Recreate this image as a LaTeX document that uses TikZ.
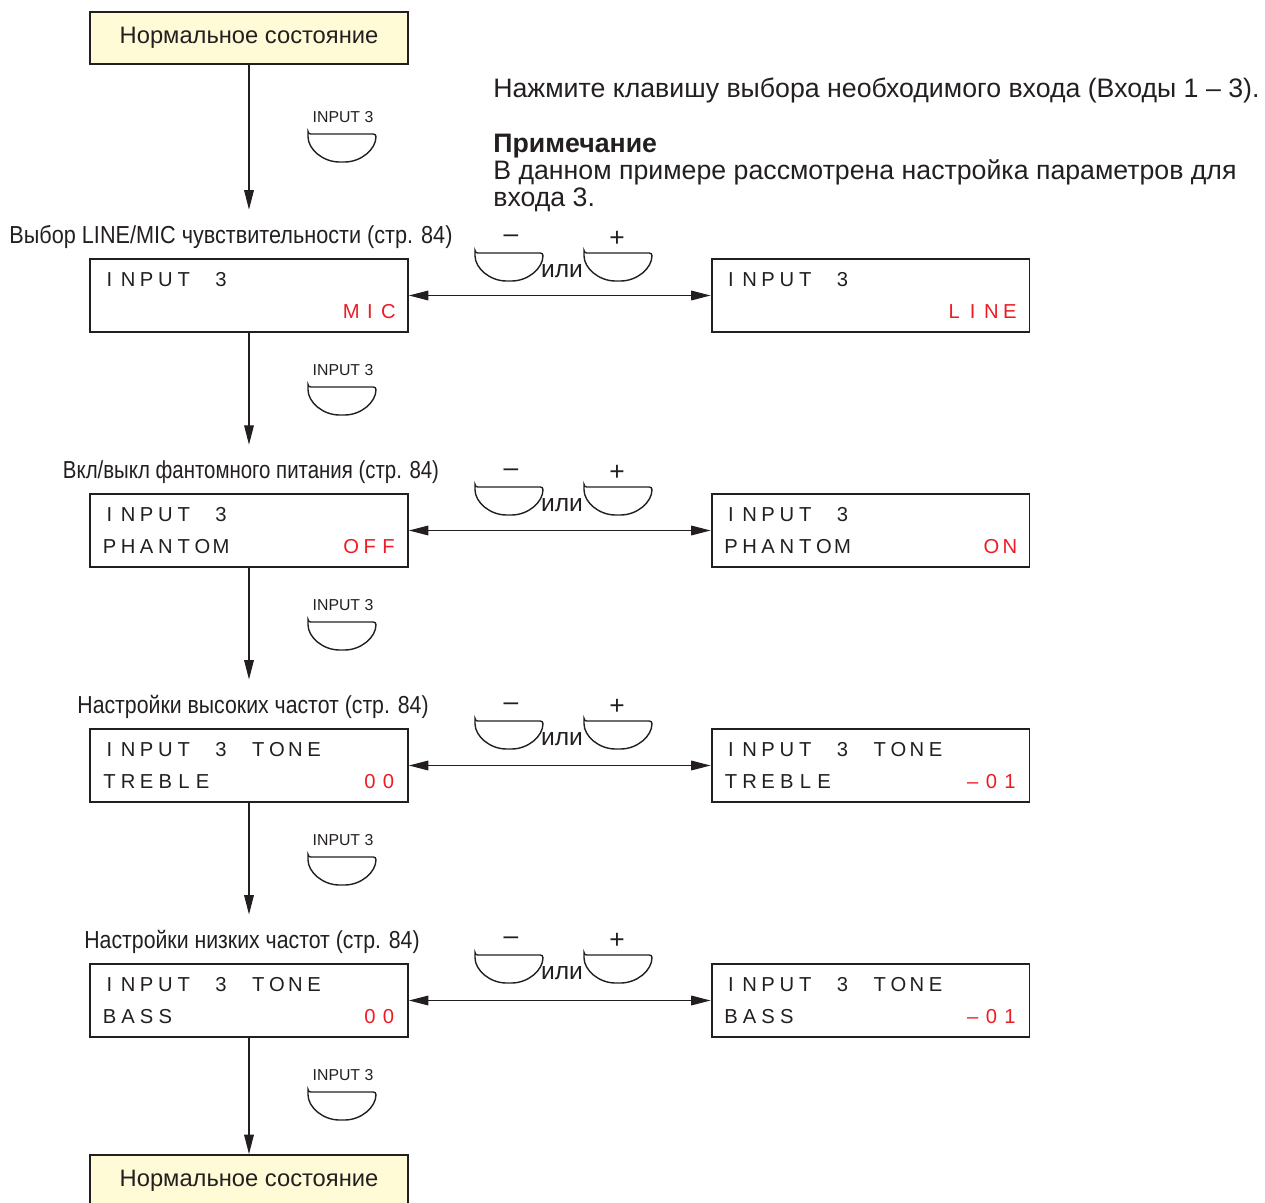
\documentclass[tikz,border=0pt]{standalone}
\usepackage{xcolor}
\usepackage{fontspec}
\setmainfont{Liberation Sans}
\newfontfamily\estrecha[FakeStretch=0.88]{Liberation Sans}
\newfontfamily\estrechab[FakeStretch=0.83]{Liberation Sans}
\newfontfamily\estrechac[FakeStretch=0.865]{Liberation Sans}
\usetikzlibrary{positioning,arrows.meta,calc}
\definecolor{tinta}{RGB}{35,31,32}
\definecolor{rojo}{RGB}{237,28,36}
\definecolor{crema}{RGB}{255,251,214}
\newlength\celda
\setlength\celda{0.372cm}
\makeatletter
\newcommand\lcd[1]{\@tfor\lcdch:=#1\do{\makebox[\celda][c]{\lcdch}}}
\makeatother

\begin{document}
\begin{tikzpicture}[x=0.02cm, y=-0.02cm,
  estado/.style={draw=tinta, line width=1.1pt, fill=crema, text=tinta,
    minimum width=6.36cm, minimum height=1.04cm,
    font=\fontsize{13.5}{16}\selectfont},
  pantalla/.style={draw=tinta, line width=1.1pt, fill=white, text=tinta,
    minimum width=6.36cm, minimum height=1.46cm, align=left, inner sep=0pt,
    font=\fontsize{11.5}{18.2}\selectfont},
  seccion/.style={text=tinta, inner sep=2pt,
    font=\estrecha\fontsize{14}{16}\selectfont},
  texto/.style={text=tinta, inner sep=0pt, font=\fontsize{15.2}{16}\selectfont},
  signo/.style={text=tinta, inner sep=0pt, font=\fontsize{15}{16}\selectfont},
  rotulo/.style={text=tinta, inner sep=1pt, font=\fontsize{9}{11}\selectfont},
  flecha/.style={-{Triangle[length=11pt,width=5.5pt]}, draw=tinta, line width=0.6pt},
  doble/.style={{Triangle[length=11pt,width=5.5pt]}-{Triangle[length=11pt,width=5.5pt]},
    draw=tinta, line width=0.6pt},
  tecla/.pic={\draw[tinta, line width=0.8pt, rounded corners=1.5pt]
    (-34,0) -- (34,0) .. controls (34,15.5) and (18.8,28) .. (0,28)
    .. controls (-18.8,28) and (-34,15.5) .. (-34,0) -- cycle;}
]
\useasboundingbox (0,0) rectangle (1265,1203);
% Estados
\node[estado] (inicio) at (249,38) {Нормальное состояние};
\node[estado] (fin) at (249,1181) {Нормальное состояние};
% Indicaciones
\node[texto, anchor=west] (indica) at (493,90)
  {Нажмите клавишу выбора необходимого входа (Входы 1 – 3).};
\node[texto, anchor=west, align=left, font=\fontsize{15.2}{15.6}\selectfont] (nota) at (493,173)
  {\textbf{Примечание}\\В данном примере рассмотрена настройка параметров для\\входа 3.};
% Secciones
\node[seccion] (s1) at (231,237) {Выбор LINE/MIC чувствительности (стр. 84)};
\node[seccion, font=\estrechab\fontsize{14}{16}\selectfont] (s2) at (251,472)
  {Вкл/выкл фантомного питания (стр. 84)};
\node[seccion, font=\estrechac\fontsize{14}{16}\selectfont] (s3) at (253,707)
  {Настройки высоких частот (стр. 84)};
\node[seccion, font=\estrechac\fontsize{14}{16}\selectfont] (s4) at (252,942)
  {Настройки низких частот (стр. 84)};
% Pantallas
\node[pantalla] (mic) at (249,295.5)
  {\lcd{INPUT~3}\\\lcd{~~~~~~~~~~~~~}\textcolor{rojo}{\lcd{MIC}}};
\node[pantalla] (line) at (870.5,295.5)
  {\lcd{INPUT~3}\\\lcd{~~~~~~~~~~~~}\textcolor{rojo}{\lcd{LINE}}};
\node[pantalla] (off) at (249,530.5)
  {\lcd{INPUT~3}\\\lcd{PHANTOM~~~~~~}\textcolor{rojo}{\lcd{OFF}}};
\node[pantalla] (on) at (870.5,530.5)
  {\lcd{INPUT~3}\\\lcd{PHANTOM~~~~~~~}\textcolor{rojo}{\lcd{ON}}};
\node[pantalla] (agudo) at (249,765.5)
  {\lcd{INPUT~3~TONE}\\\lcd{TREBLE~~~~~~~~}\textcolor{rojo}{\lcd{00}}};
\node[pantalla] (agudom) at (870.5,765.5)
  {\lcd{INPUT~3~TONE}\\\lcd{TREBLE~~~~~~~}\textcolor{rojo}{\lcd{–01}}};
\node[pantalla] (grave) at (249,1000.5)
  {\lcd{INPUT~3~TONE}\\\lcd{BASS~~~~~~~~~~}\textcolor{rojo}{\lcd{00}}};
\node[pantalla] (gravem) at (870.5,1000.5)
  {\lcd{INPUT~3~TONE}\\\lcd{BASS~~~~~~~~~}\textcolor{rojo}{\lcd{–01}}};
% Teclas
\foreach \y [count=\i] in {117,370,605,840,1075} {
  \node[rotulo] (ent\i) at (343,\y) {INPUT 3};
  \pic at (342,\y+17) {tecla};
}
\foreach \y [count=\i] in {239,473,707,941} {
  \node[signo] (menos\i) at (511,\y) {–};
  \node[signo] (mas\i) at (617,\y) {+};
  \node[signo, font=\fontsize{14}{16}\selectfont] (o\i) at (562,\y+32) {или};
  \pic at (509,\y+14) {tecla};
  \pic at (618,\y+14) {tecla};
}
% Flechas
\draw[flecha, shorten >=0.24cm] (inicio.south) -- (inicio.south |- s1.north);
\draw[flecha, shorten >=0.24cm] (mic.south) -- (mic.south |- s2.north);
\draw[flecha, shorten >=0.24cm] (off.south) -- (off.south |- s3.north);
\draw[flecha, shorten >=0.24cm] (agudo.south) -- (agudo.south |- s4.north);
\draw[flecha] (grave.south) -- (fin.north);
\draw[doble] (mic.east) -- (line.west);
\draw[doble] (off.east) -- (on.west);
\draw[doble] (agudo.east) -- (agudom.west);
\draw[doble] (grave.east) -- (gravem.west);
\end{tikzpicture}
\end{document}
